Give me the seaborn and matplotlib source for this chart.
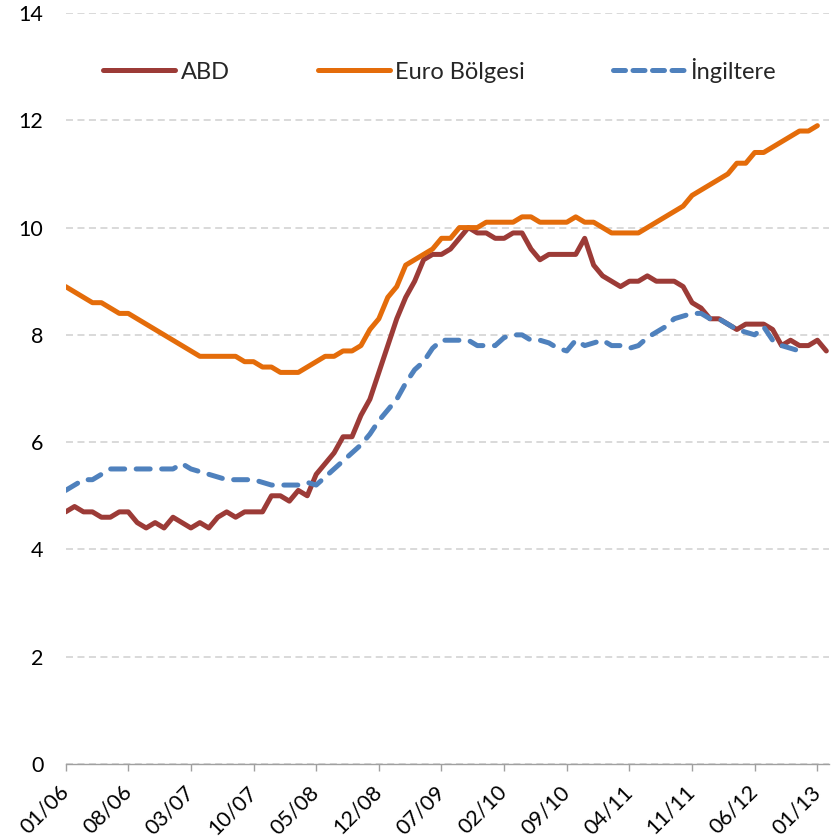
import numpy as np
import pandas as pd
import seaborn as sns
import matplotlib.pyplot as plt

# Monthly unemployment rates (%), starting 01/2006
abd = [4.7, 4.8, 4.7, 4.7, 4.6, 4.6, 4.7, 4.7, 4.5, 4.4, 4.5, 4.4,
       4.6, 4.5, 4.4, 4.5, 4.4, 4.6, 4.7, 4.6, 4.7, 4.7, 4.7, 5.0,
       5.0, 4.9, 5.1, 5.0, 5.4, 5.6, 5.8, 6.1, 6.1, 6.5, 6.8, 7.3,
       7.8, 8.3, 8.7, 9.0, 9.4, 9.5, 9.5, 9.6, 9.8, 10.0, 9.9, 9.9,
       9.8, 9.8, 9.9, 9.9, 9.6, 9.4, 9.5, 9.5, 9.5, 9.5, 9.8, 9.3,
       9.1, 9.0, 8.9, 9.0, 9.0, 9.1, 9.0, 9.0, 9.0, 8.9, 8.6, 8.5,
       8.3, 8.3, 8.2, 8.1, 8.2, 8.2, 8.2, 8.1, 7.8, 7.9, 7.8, 7.8,
       7.9, 7.7]

euro = [8.9, 8.8, 8.7, 8.6, 8.6, 8.5, 8.4, 8.4, 8.3, 8.2, 8.1, 8.0,
        7.9, 7.8, 7.7, 7.6, 7.6, 7.6, 7.6, 7.6, 7.5, 7.5, 7.4, 7.4,
        7.3, 7.3, 7.3, 7.4, 7.5, 7.6, 7.6, 7.7, 7.7, 7.8, 8.1, 8.3,
        8.7, 8.9, 9.3, 9.4, 9.5, 9.6, 9.8, 9.8, 10.0, 10.0, 10.0, 10.1,
        10.1, 10.1, 10.1, 10.2, 10.2, 10.1, 10.1, 10.1, 10.1, 10.2, 10.1, 10.1,
        10.0, 9.9, 9.9, 9.9, 9.9, 10.0, 10.1, 10.2, 10.3, 10.4, 10.6, 10.7,
        10.8, 10.9, 11.0, 11.2, 11.2, 11.4, 11.4, 11.5, 11.6, 11.7, 11.8, 11.8,
        11.9]

ingiltere = [5.1, 5.2, 5.3, 5.3, 5.4, 5.5, 5.5, 5.5, 5.5, 5.5, 5.5, 5.5,
             5.5, 5.6, 5.5, 5.45, 5.4, 5.35, 5.3, 5.3, 5.3, 5.3, 5.25, 5.2,
             5.2, 5.2, 5.2, 5.25, 5.2, 5.35, 5.5, 5.65, 5.8, 5.95, 6.15, 6.4,
             6.6, 6.8, 7.1, 7.35, 7.5, 7.75, 7.9, 7.9, 7.9, 7.9, 7.8, 7.8,
             7.8, 7.95, 8.0, 8.0, 7.9, 7.9, 7.85, 7.75, 7.7, 7.9, 7.8, 7.85,
             7.9, 7.8, 7.8, 7.75, 7.8, 7.95, 8.05, 8.15, 8.3, 8.35, 8.4, 8.4,
             8.3, 8.3, 8.2, 8.1, 8.05, 8.0, 8.15, 7.9, 7.8, 7.75, 7.7]

tick_labels = ['01/06', '08/06', '03/07', '10/07', '05/08', '12/08', '07/09',
               '02/10', '09/10', '04/11', '11/11', '06/12', '01/13']

series = {'ABD': abd, 'Euro Bölgesi': euro, 'İngiltere': ingiltere}
colors = {'ABD': '#9C3B37', 'Euro Bölgesi': '#E46C0A', 'İngiltere': '#4F81BD'}

sns.set_style('white')
plt.rcParams['font.family'] = ['Lato', 'DejaVu Sans']

fig = plt.figure(figsize=(8.39, 8.40), dpi=100)
ax = fig.add_axes([0.0782, 0.0905, 0.9099, 0.894])

for name, vals in series.items():
    df = pd.DataFrame({'ay': np.arange(len(vals)), 'oran': vals})
    sns.lineplot(data=df, x='ay', y='oran', ax=ax, color=colors[name],
                 linewidth=3.6, label=name,
                 solid_capstyle='round', dash_capstyle='round',
                 solid_joinstyle='round')

# dashed UK line
ax.lines[2].set_dashes((2.8, 2.3))

ax.set_xlim(0, 85.3)
ax.set_ylim(0, 14)
ax.set_yticks(range(0, 15, 2))
ax.set_xticks(range(0, 7 * len(tick_labels), 7))
ax.set_xticklabels(tick_labels, rotation=45, ha='right', va='center',
                   rotation_mode='anchor')
ax.set_xlabel('')
ax.set_ylabel('')

ax.yaxis.grid(True, color='#D9D9D9', linestyle=(0, (3.6, 2.3)), linewidth=1.4)
ax.set_axisbelow(True)
for s in ['top', 'right', 'left']:
    ax.spines[s].set_visible(False)
ax.spines['bottom'].set_color('#A0A0A0')
ax.spines['bottom'].set_linewidth(1.0)

ax.tick_params(axis='y', length=0, pad=16, labelsize=15.5, labelcolor='black')
ax.tick_params(axis='x', length=5, width=1, color='#A0A0A0', pad=13,
               labelsize=15.5, labelcolor='black', bottom=True)

leg = ax.legend(loc='center', bbox_to_anchor=(0.49, 0.924), ncol=3,
                frameon=False, fontsize=17, handlelength=3.05,
                handletextpad=0.25, columnspacing=3.7)
leg.get_lines()[2].set_dashes((2.4, 1.5))

fig.savefig('out.png', dpi=100)
